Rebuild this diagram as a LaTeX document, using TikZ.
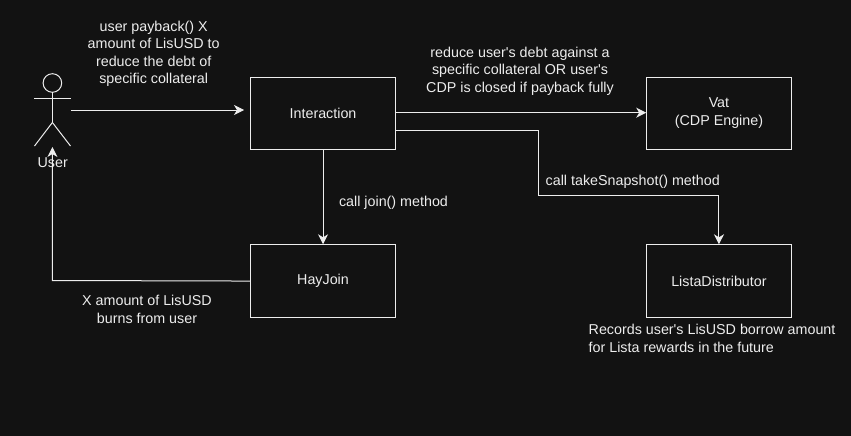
\documentclass[tikz,border=0pt]{standalone}
\usepackage{fontspec}
\setmainfont[Ligatures=TeXOff]{Liberation Sans}
\usetikzlibrary{arrows.meta}
\definecolor{bg}{HTML}{121212}
\definecolor{fg}{HTML}{EDEDED}
\begin{document}
\begin{tikzpicture}[x=1pt,y=-1pt,
  box/.style={draw=fg,line width=1pt,minimum width=144.5pt,minimum height=72.5pt,inner sep=0pt,align=center,text=fg,font=\fontsize{14.3}{17.5}\selectfont,anchor=north west},
  lab/.style={text=fg,font=\fontsize{14.3}{17.5}\selectfont,inner sep=0pt,align=center},
  conn/.style={draw=fg,line width=1pt,-{Stealth[length=10pt,width=10pt,inset=3pt]}},
  act/.style={draw=fg,line width=1pt}]
\path[use as bounding box,fill=bg] (0,0) rectangle (851,436);
\node[box] (inter) at (250.3,76.5) {Interaction};
\node[box] (vat) at (646.2,76.5) {Vat\\(CDP Engine)};
\node[box] (hay) at (250.3,244.3) {HayJoin};
\node[box] (dist) at (646.2,244.3) {ListaDistributor};
% actor
\draw[act] (52.4,83) circle (9.3);
\draw[act] (52.4,92.3) -- (52.4,122.5);
\draw[act] (34,98.3) -- (70.5,98.3);
\draw[act] (52.4,122.5) -- (34.5,146);
\draw[act] (52.4,122.5) -- (70.5,146);
\node[lab] (user) at (52.7,163) {User};
\coordinate (actorR) at (71,110);
\coordinate (interL) at (244,110);
\coordinate (actorB) at (52.4,147);
\draw[conn] (actorR) -- (interL);
\draw[conn] (inter.east |- 0,112.7) -- (vat.west |- 0,112.7);
\draw[conn] (inter.south) -- (hay.north);
\draw[conn] (inter.east |- 0,130) -- (538.5,130) -- (538.5,195) -- (dist.north |- 0,195) -- (dist.north);
\draw[conn] (hay.west) -- (52.4,280.5) -- (actorB);
\node[lab] (t1) at (153.7,54) {user payback() X\\amount of LisUSD to\\reduce the debt of\\specific collateral};
\node[lab] (t2) at (520,71) {reduce user's debt against a\\specific collateral OR user's\\CDP is closed if payback fully};
\node[lab] (t3) at (393.5,202.5) {call join() method};
\node[lab] (t4) at (632.7,181.5) {call takeSnapshot() method};
\node[lab] (t5) at (147,309.5) {X amount of LisUSD\\burns from user};
\node[lab,align=left,anchor=west] (t6) at (588.5,338.5) {Records user's LisUSD borrow amount\\for Lista rewards in the future};
\end{tikzpicture}
\end{document}
